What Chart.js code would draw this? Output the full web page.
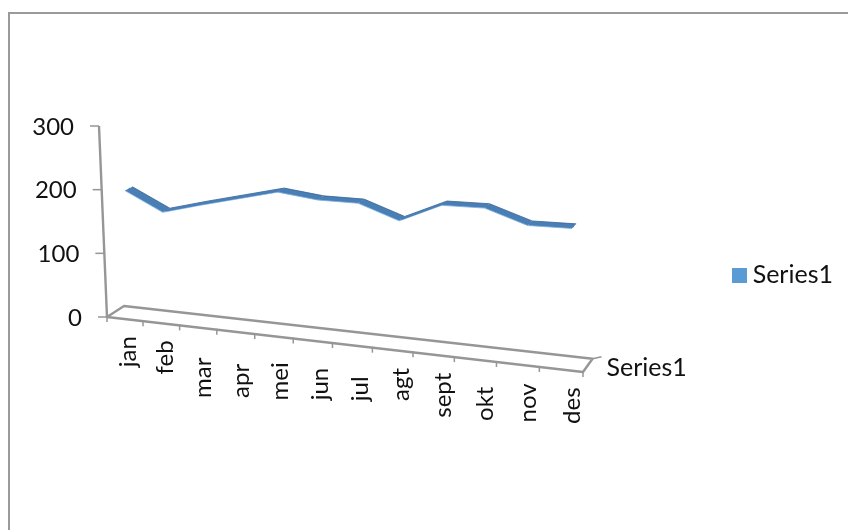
<!DOCTYPE html>
<html>
<head>
<meta charset="utf-8">
<title>Series1</title>
<style>
    html, body { margin: 0; background: #fff; overflow: hidden; }
    #frame { position: absolute; left: 8px; top: 12px; right: 0; bottom: 0; border-left: 2px solid #9a9a9a; border-top: 2px solid #9a9a9a; }
    #chart { position: absolute; left: 0; top: 0; }
</style>
</head>
<body>
<div id="frame"></div>
<canvas id="chart" width="848" height="530"></canvas>
<script src="https://cdn.jsdelivr.net/npm/chart.js@4"></script>
<script>
const months = ['jan', 'feb', 'mar', 'apr', 'mei', 'jun', 'jul', 'agt', 'sept', 'okt', 'nov', 'des'];
const series1 = [197, 168, 184, 199, 214, 207, 207, 186, 214, 215, 195, 196];
const valueTicks = [0, 100, 200, 300];
const depthLabel = 'Series1';

// how far each rotated month label hangs below the front edge of the floor
const labelGap = [17, 17, 30, 32, 26, 27, 31, 18, 18, 27, 19, 18];

const AXIS_COLOR = '#969696';
const TEXT_COLOR = '#111';
const FONT = '24px Lato';

// camera for the 3-d box: u along the months, d into the depth, v up the value axis
const origin = { x: 107, y: 317 };
const floorRight = { x: 583, y: 372 };
const floorBack = { x: 124, y: 306 };
const rise = { x: -8, y: -191 };
const riseLean = 20; // verticals lean outwards further right
const persU = -0.1;
const persD = 0.018;

const project = (u, v, d) => {
    const w = 1 + persU * u + persD * d;
    const ax = floorRight.x * (1 + persU) - origin.x;
    const ay = floorRight.y * (1 + persU) - origin.y;
    const bx = floorBack.x * (1 + persD) - origin.x;
    const by = floorBack.y * (1 + persD) - origin.y;
    return {
        x: (origin.x + ax * u + bx * d + (rise.x + riseLean * u) * v) / w,
        y: (origin.y + ay * u + by * d + rise.y * v) / w,
    };
};

const toUnit = (chart, xPixel, yPixel) => {
    const area = chart.chartArea;
    return {
        u: (xPixel - area.left) / area.width,
        v: (area.bottom - yPixel) / area.height,
    };
};

const line = (ctx, a, b) => {
    ctx.beginPath();
    ctx.moveTo(a.x, a.y);
    ctx.lineTo(b.x, b.y);
    ctx.stroke();
};

// legend swatch, drawn wider than its layout box so it sits close to the text
const makeSwatch = () => {
    const swatch = document.createElement('canvas');
    swatch.width = 15;
    swatch.height = 15;
    const g = swatch.getContext('2d');
    g.fillStyle = '#5b9bd5';
    g.fillRect(0, 0, 15, 15);
    return swatch;
};

const box3d = {
    id: 'box3d',

    // the line element follows the projected centre of the ribbon
    afterDatasetsUpdate(chart) {
        const { x: xScale, y: yScale } = chart.scales;
        chart.getDatasetMeta(0).data.forEach((point, i) => {
            const { u, v } = toUnit(chart, xScale.getPixelForValue(i), yScale.getPixelForValue(series1[i]));
            const p = project(u, v, 0.5);
            point.x = p.x;
            point.y = p.y;
        });
    },

    beforeDatasetsDraw(chart) {
        const { ctx } = chart;
        const { x: xScale, y: yScale } = chart.scales;

        ctx.save();
        ctx.strokeStyle = AXIS_COLOR;
        ctx.fillStyle = TEXT_COLOR;
        ctx.font = FONT;
        ctx.lineWidth = 2.4;
        ctx.lineJoin = 'round';

        // floor outline and value axis
        ctx.beginPath();
        [project(0, 0, 0), project(1, 0, 0), project(1, 0, 1), project(0, 0, 1)].forEach((p) => ctx.lineTo(p.x, p.y));
        ctx.closePath();
        ctx.stroke();
        line(ctx, project(0, 0, 0), project(0, 1, 0));

        // value ticks and labels
        ctx.textAlign = 'right';
        ctx.textBaseline = 'middle';
        ctx.lineWidth = 1.5;
        yScale.ticks.forEach((tick) => {
            const { v } = toUnit(chart, 0, yScale.getPixelForValue(tick.value));
            const p = project(0, v, 0);
            line(ctx, { x: p.x - 9, y: p.y }, p);
            ctx.fillText(tick.label, p.x - 25, p.y + 1);
        });

        // month ticks on the front edge
        for (let i = 0; i <= months.length; i++) {
            const { u } = toUnit(chart, xScale.getPixelForValue(i - 0.5), 0);
            const p = project(u, 0, 0);
            line(ctx, { x: p.x, y: p.y - 1 }, { x: p.x, y: p.y + 5 });
        }

        // month labels, rotated to read upwards
        xScale.ticks.forEach((tick, i) => {
            const { u } = toUnit(chart, xScale.getPixelForValue(i), 0);
            const p = project(u, 0, 0);
            ctx.save();
            ctx.translate(p.x + 3 + 9 * u, p.y + labelGap[i]);
            ctx.rotate(-Math.PI / 2);
            ctx.fillText(tick.label, 0, 0);
            ctx.restore();
        });

        // depth axis tick and its label
        const corner = project(1, 0, 1);
        line(ctx, corner, { x: corner.x + 9, y: corner.y - 2 });
        ctx.textAlign = 'left';
        ctx.font = '25px Lato';
        ctx.fillText(depthLabel, corner.x + 14, corner.y + 9);

        // ribbon faces between the back and front edge of the line
        const near = 0.28;
        const far = 0.72;
        const edges = series1.map((value, i) => {
            const { u, v } = toUnit(chart, xScale.getPixelForValue(i), yScale.getPixelForValue(value));
            return { front: project(u, v, near), back: project(u, v, far) };
        });
        ctx.fillStyle = '#4a7fb5';
        edges.slice(1).forEach((edge, i) => {
            const prev = edges[i];
            ctx.beginPath();
            [prev.front, edge.front, edge.back, prev.back].forEach((p) => ctx.lineTo(p.x, p.y));
            ctx.closePath();
            ctx.fill();
        });
        ctx.lineWidth = 1;
        edges.slice(1).forEach((edge, i) => {
            ctx.strokeStyle = 'rgba(120,175,225,0.8)';
            line(ctx, edges[i].front, edge.front);
            ctx.strokeStyle = 'rgba(55,100,150,0.8)';
            line(ctx, edges[i].back, edge.back);
        });
        ctx.restore();
    },
};

const initChart = () => {
    const swatch = makeSwatch();
    new Chart(document.getElementById('chart'), {
        type: 'line',
        data: {
            labels: months,
            datasets: [
                {
                    label: 'Series1',
                    data: series1,
                    borderColor: '#4a7fb5',
                    backgroundColor: '#5b9bd5',
                    borderWidth: 2,
                    pointRadius: 0,
                    tension: 0,
                    clip: false,
                },
            ],
        },
        options: {
            responsive: false,
            animation: false,
            layout: { padding: { top: 20, right: 5 } },
            plugins: {
                tooltip: { enabled: false },
                legend: {
                    position: 'right',
                    onClick: null,
                    labels: {
                        color: TEXT_COLOR,
                        font: { family: 'Lato', size: 25 },
                        boxHeight: 15,
                        usePointStyle: true,
                        pointStyleWidth: 1,
                        generateLabels: (chart) => Chart.defaults.plugins.legend.labels.generateLabels(chart)
                            .map((item) => ({ ...item, pointStyle: swatch })),
                    },
                },
            },
            scales: {
                x: { display: false, offset: true },
                y: { display: false, min: 0, max: 300, afterBuildTicks: (scale) => { scale.ticks = valueTicks.map((value) => ({ value })); } },
            },
        },
        plugins: [box3d],
    });
};

initChart();
</script>
</body>
</html>
